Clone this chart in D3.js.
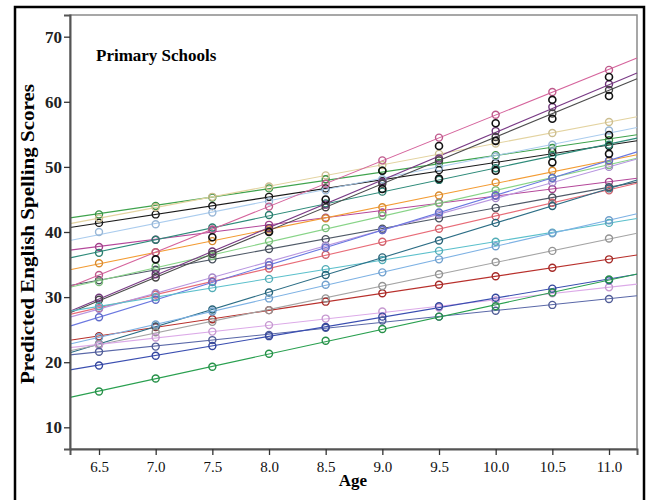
<!DOCTYPE html>
<html>
<head>
<meta charset="utf-8">
<script src="https://cdn.jsdelivr.net/npm/d3@7"></script>
<style>
  body { margin: 0; background: #fff; }
  svg { display: block; }
  text { font-family: "Liberation Serif", "Times New Roman", serif; }
</style>
</head>
<body>
<script>
// ages where predictions are plotted
var ages = [6.5, 7.0, 7.5, 8.0, 8.5, 9.0, 9.5, 10.0, 10.5, 11.0];
var xTicks = ['6.5', '7.0', '7.5', '8.0', '8.5', '9.0', '9.5', '10.0', '10.5', '11.0'];
var yTicks = [10, 20, 30, 40, 50, 60, 70];

// one colour + one row of predicted scores per school
var schoolColors = [
  '#3fa34d', '#1b1b1b', '#e3d3a0', '#aaccee', '#b4479a', '#2e8b7a',
  '#f39c34', '#505a68', '#d5649c', '#88d488', '#7a3b86', '#4c4c4c',
  '#e86c78', '#b896e0', '#6b78e0', '#5cc0cc', '#b8302c', '#2d6e86',
  '#7eb2e4', '#a4a4a4', '#dcaae8', '#5a68a8', '#3a4eb0', '#2aa050'
];
var schoolScores = [
  [42.7, 44.0, 45.3, 46.7, 48.1, 49.4, 50.6, 51.8, 52.9, 54.1],
  [41.4, 42.7, 44.0, 45.4, 46.7, 47.8, 49.5, 50.6, 52.3, 53.2],
  [42.1, 43.8, 45.4, 47.0, 48.7, 50.3, 52.0, 53.6, 55.2, 56.9],
  [40.0, 41.2, 43.0, 44.7, 46.4, 48.1, 49.9, 51.6, 53.4, 55.6],
  [37.7, 38.8, 40.3, 41.1, 42.2, 43.0, 44.5, 45.6, 46.6, 47.7],
  [36.8, 38.8, 40.7, 42.6, 44.4, 46.2, 48.0, 49.8, 51.7, 53.4],
  [35.2, 36.9, 38.6, 40.4, 42.1, 43.8, 45.6, 47.6, 49.4, 50.9],
  [32.6, 34.2, 35.8, 37.4, 38.9, 40.5, 42.1, 43.7, 45.3, 46.9],
  [33.4, 36.9, 40.4, 43.9, 47.4, 51.0, 54.5, 58.0, 61.5, 64.9],
  [32.3, 34.7, 36.3, 38.6, 40.6, 42.5, 44.4, 46.4, 48.3, 50.3],
  [29.9, 33.5, 37.0, 40.6, 44.2, 47.7, 51.3, 55.5, 59.2, 62.7],
  [29.6, 33.0, 36.6, 40.1, 43.8, 47.4, 51.0, 54.6, 58.2, 61.8],
  [28.3, 30.4, 32.4, 34.4, 36.5, 38.5, 40.5, 42.4, 44.5, 46.4],
  [28.2, 30.6, 33.0, 35.4, 37.9, 40.3, 42.7, 45.2, 47.6, 50.0],
  [26.9, 29.6, 32.3, 34.9, 37.6, 40.3, 43.0, 45.6, 48.3, 51.0],
  [28.6, 30.0, 31.4, 32.8, 34.3, 35.7, 37.1, 38.5, 39.9, 41.4],
  [24.0, 25.4, 26.6, 28.0, 29.3, 30.6, 31.9, 33.2, 34.5, 35.8],
  [22.8, 25.5, 28.1, 30.7, 33.4, 36.1, 38.7, 41.4, 44.0, 46.7],
  [23.8, 25.8, 27.8, 29.8, 31.9, 33.8, 35.8, 37.8, 39.8, 41.8],
  [22.8, 24.6, 26.2, 28.0, 29.8, 31.7, 33.5, 35.4, 37.1, 39.0],
  [22.6, 23.8, 24.7, 25.7, 26.7, 27.8, 28.4, 29.5, 30.6, 31.5],
  [21.6, 22.4, 23.4, 24.2, 25.3, 26.4, 27.0, 27.9, 28.8, 29.7],
  [19.5, 21.0, 22.5, 24.0, 25.4, 27.0, 28.6, 29.9, 31.3, 32.6],
  [15.5, 17.5, 19.3, 21.3, 23.3, 25.1, 27.0, 28.6, 30.7, 32.7]
];

// loose black predictions without their own drawn line
var extraAges   = [7.0, 7.5, 8.0, 8.5, 9.0, 9.0, 9.5, 9.5, 10.0, 10.0, 10.0, 10.5, 10.5, 10.5, 11.0, 11.0, 11.0, 11.0];
var extraScores = [35.8, 39.2, 40.0, 45.0, 49.4, 46.6, 53.2, 48.2, 56.7, 54.0, 49.4, 60.3, 57.4, 50.7, 63.8, 60.9, 54.9, 52.0];

var width = 653, height = 500;
var margin = {left: 70, top: 15, right: 16, bottom: 51};

var svg = d3.select('body').append('svg')
    .attr('width', width)
    .attr('height', height);

var x = d3.scaleLinear()
    .domain([6.244, 11.247])
    .range([margin.left, width - margin.right]);

var y = d3.scaleLinear()
    .domain([6.67, 73.33])
    .range([height - margin.bottom, margin.top]);

// outer frame
svg.append('rect')
    .attr('x', 15).attr('y', 7)
    .attr('width', 629).attr('height', 500)
    .attr('fill', 'none')
    .attr('stroke', '#000')
    .attr('stroke-width', 2.5);

// plot frame
svg.append('rect')
    .attr('x', x.range()[0]).attr('y', y.range()[1])
    .attr('width', x.range()[1] - x.range()[0])
    .attr('height', y.range()[0] - y.range()[1])
    .attr('fill', 'none')
    .attr('stroke', '#8a8a8a')
    .attr('stroke-width', 1.5);

// fitted line per school
function fit(scores) {
  var mx = d3.mean(ages), my = d3.mean(scores);
  var num = d3.sum(ages, function(a, i) { return (a - mx) * (scores[i] - my); });
  var den = d3.sum(ages, function(a) { return (a - mx) * (a - mx); });
  var b = num / den;
  return function(a) { return my + b * (a - mx); };
}

var g = svg.append('g');

schoolScores.forEach(function(scores, i) {
  var f = fit(scores);
  var x0 = x.domain()[0], x1 = x.domain()[1];
  g.append('line')
      .attr('x1', x(x0)).attr('y1', y(f(x0)))
      .attr('x2', x(x1)).attr('y2', y(f(x1)))
      .attr('stroke', schoolColors[i])
      .attr('stroke-width', 1.1);
});

schoolScores.forEach(function(scores, i) {
  g.selectAll(null)
      .data(scores)
      .enter().append('circle')
      .attr('cx', function(d, j) { return x(ages[j]); })
      .attr('cy', function(d) { return y(d); })
      .attr('r', 3.5)
      .attr('fill', 'none')
      .attr('stroke', d3.color(schoolColors[i]).darker(0.3))
      .attr('stroke-width', 1.4);
});

g.selectAll('.extra')
    .data(extraScores)
    .enter().append('circle')
    .attr('class', 'extra')
    .attr('cx', function(d, j) { return x(extraAges[j]); })
    .attr('cy', function(d) { return y(d); })
    .attr('r', 3.5)
    .attr('fill', 'none')
    .attr('stroke', '#111')
    .attr('stroke-width', 1.6);

// axes
var xAxis = svg.append('g')
    .attr('transform', 'translate(0,' + y.range()[0] + ')')
    .call(d3.axisBottom(x).tickValues(ages).tickFormat(function(d, i) { return xTicks[i]; })
      .tickSize(6).tickPadding(6));
xAxis.select('.domain').attr('stroke', '#555').attr('stroke-width', 2);
xAxis.selectAll('.tick line').attr('stroke', '#333').attr('stroke-width', 1.3);
xAxis.selectAll('text')
    .attr('font-size', 15)
    .attr('font-family', '"Liberation Serif", serif')
    .attr('fill', '#111');

var yAxis = svg.append('g')
    .attr('transform', 'translate(' + x.range()[0] + ',0)')
    .call(d3.axisLeft(y).tickValues(yTicks).tickSize(6).tickPadding(2));
yAxis.select('.domain').attr('stroke', '#555').attr('stroke-width', 2);
yAxis.selectAll('.tick line').attr('stroke', '#333').attr('stroke-width', 1.3);
yAxis.selectAll('text')
    .attr('font-size', 17)
    .attr('font-weight', 'bold')
    .attr('font-family', '"Liberation Serif", serif')
    .attr('fill', '#222');

// titles
svg.append('text')
    .attr('x', 353).attr('y', 486)
    .attr('text-anchor', 'middle')
    .attr('font-size', 17)
    .attr('font-weight', 'bold')
    .text('Age');

svg.append('text')
    .attr('transform', 'translate(34,234) rotate(-90)')
    .attr('text-anchor', 'middle')
    .attr('font-size', 18)
    .attr('font-weight', 'bold')
    .attr('textLength', 300)
    .attr('lengthAdjust', 'spacingAndGlyphs')
    .text('Predicted English Spelling Scores');

svg.append('text')
    .attr('x', 96).attr('y', 61)
    .attr('font-size', 17)
    .attr('font-weight', 'bold')
    .text('Primary Schools');
</script>
</body>
</html>
